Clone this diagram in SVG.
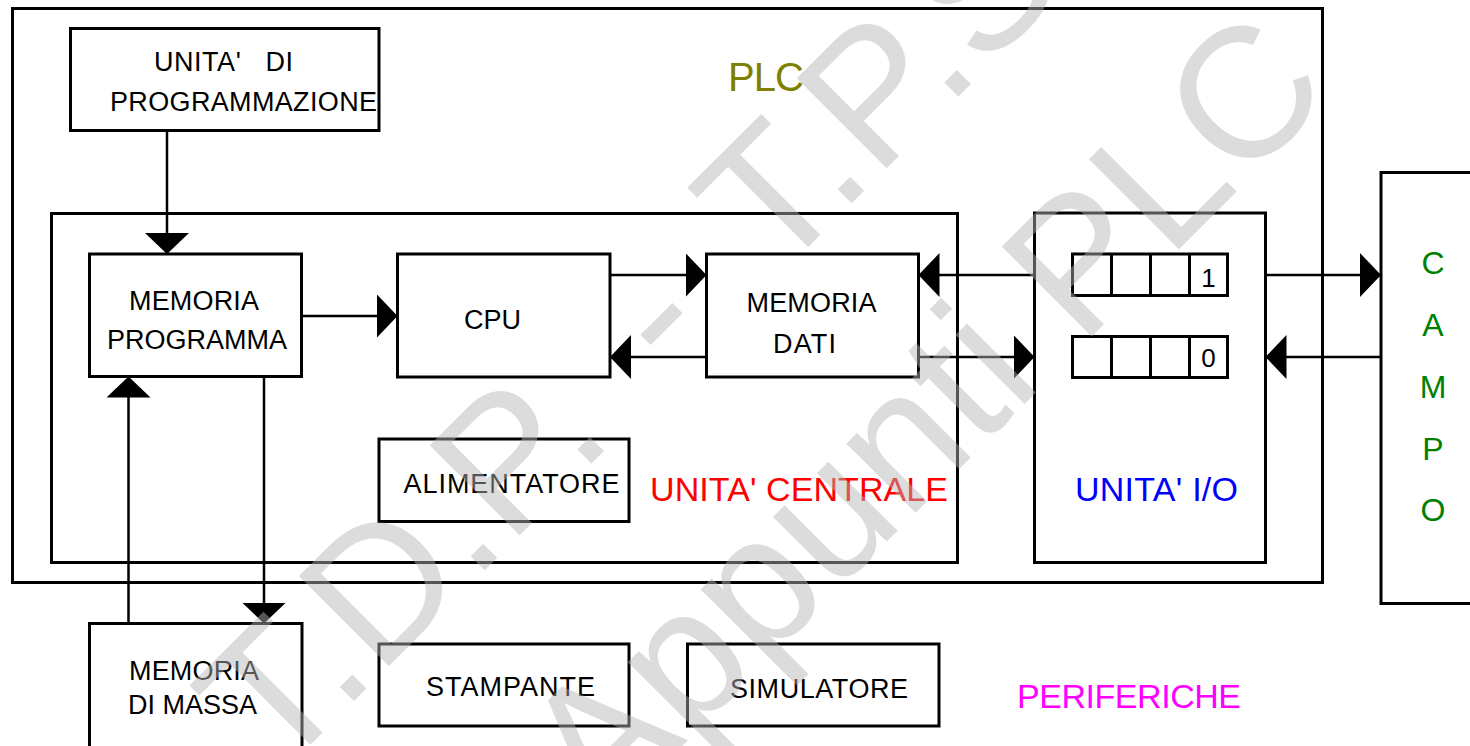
<svg xmlns="http://www.w3.org/2000/svg" width="1470" height="746" viewBox="0 0 1470 746">
<defs>
<style>
.box{fill:none;stroke:#000;stroke-width:3}
.ln{fill:none;stroke:#000;stroke-width:2.5}
.t{font-family:"Liberation Sans",Arial,sans-serif;font-size:27px;fill:#000}
.big{font-family:"Liberation Sans",Arial,sans-serif;font-size:34px}
.campo{font-family:"Liberation Sans",Arial,sans-serif;font-size:32px;fill:#008000;text-anchor:middle}
.wm{font-family:"Liberation Sans",Arial,sans-serif;font-size:185px;fill:#b5b5b5;fill-opacity:0.47}
</style>
<marker id="arr" markerUnits="userSpaceOnUse" markerWidth="22" markerHeight="44" viewBox="0 0 22 44" refX="21" refY="22" orient="auto">
<path d="M0,0 L21,22 L0,44 Z" fill="#000"/>
</marker>
</defs>
<rect width="1470" height="746" fill="#fff"/>

<g id="plc">
<rect class="box" x="12.5" y="8.5" width="1310" height="574"/>
<text class="big" x="728" y="91" font-size="40" style="font-size:40px" fill="#808000" textLength="76">PLC</text>
</g>

<g id="unita-programmazione">
<rect class="box" x="70.5" y="28.5" width="308.5" height="102"/>
<text class="t" x="154" y="71" xml:space="preserve" textLength="139">UNITA'   DI</text>
<text class="t" x="110" y="111" textLength="267">PROGRAMMAZIONE</text>
</g>

<g id="unita-centrale">
<rect class="box" x="51.5" y="213.5" width="906" height="349"/>
<text class="big" x="650" y="501" fill="#ff0000" textLength="298">UNITA' CENTRALE</text>
</g>

<g id="memoria-programma">
<rect class="box" x="89.5" y="254" width="212" height="122.5"/>
<text class="t" x="129" y="310" textLength="130">MEMORIA</text>
<text class="t" x="107" y="349" textLength="180">PROGRAMMA</text>
</g>

<g id="cpu">
<rect class="box" x="397.5" y="254" width="212.5" height="123"/>
<text class="t" x="464" y="329">CPU</text>
</g>

<g id="memoria-dati">
<rect class="box" x="706.5" y="254" width="212" height="123"/>
<text class="t" x="746.5" y="311.5" textLength="130">MEMORIA</text>
<text class="t" x="773" y="352.5" textLength="63">DATI</text>
</g>

<g id="alimentatore">
<rect class="box" x="379" y="439" width="250" height="82.5"/>
<text class="t" x="403.5" y="492.5" textLength="216">ALIMENTATORE</text>
</g>

<g id="unita-io">
<rect class="box" x="1034.5" y="213" width="231" height="349.5"/>
<rect class="box" x="1072.5" y="254" width="155" height="41.5"/>
<line class="box" x1="1111.5" y1="254" x2="1111.5" y2="295.5"/>
<line class="box" x1="1150.5" y1="254" x2="1150.5" y2="295.5"/>
<line class="box" x1="1189.5" y1="254" x2="1189.5" y2="295.5"/>
<text class="t" x="1208.5" y="287" font-size="26" style="font-size:26px" text-anchor="middle">1</text>
<rect class="box" x="1072.5" y="336.5" width="155" height="41"/>
<line class="box" x1="1111.5" y1="336.5" x2="1111.5" y2="377.5"/>
<line class="box" x1="1150.5" y1="336.5" x2="1150.5" y2="377.5"/>
<line class="box" x1="1189.5" y1="336.5" x2="1189.5" y2="377.5"/>
<text class="t" x="1208.5" y="367" style="font-size:26px" text-anchor="middle">0</text>
<text class="big" x="1075" y="501" fill="#0000ff" textLength="163">UNITA' I/O</text>
</g>

<g id="campo">
<rect class="box" x="1381" y="172.5" width="130" height="431"/>
<text class="campo" x="1433" y="274">C</text>
<text class="campo" x="1433" y="336">A</text>
<text class="campo" x="1433" y="398">M</text>
<text class="campo" x="1433" y="460">P</text>
<text class="campo" x="1433" y="521">O</text>
</g>

<g id="memoria-di-massa">
<rect class="box" x="89.5" y="623.5" width="212.5" height="140"/>
<text class="t" x="129" y="680" textLength="130">MEMORIA</text>
<text class="t" x="128" y="714" textLength="129">DI MASSA</text>
</g>

<g id="stampante">
<rect class="box" x="379" y="644" width="250" height="82"/>
<text class="t" x="426" y="696" textLength="169">STAMPANTE</text>
</g>

<g id="simulatore">
<rect class="box" x="687.5" y="644" width="251.5" height="82"/>
<text class="t" x="730" y="698" textLength="178">SIMULATORE</text>
</g>

<g id="periferiche">
<text class="big" x="1017" y="708" fill="#ff00ff" textLength="224">PERIFERICHE</text>
</g>

<g id="connectors">
<line class="ln" x1="167" y1="130.5" x2="167" y2="254" marker-end="url(#arr)"/>
<line class="ln" x1="301.5" y1="316" x2="397.5" y2="316" marker-end="url(#arr)"/>
<line class="ln" x1="610" y1="275" x2="706.5" y2="275" marker-end="url(#arr)"/>
<line class="ln" x1="706.5" y1="357" x2="610" y2="357" marker-end="url(#arr)"/>
<line class="ln" x1="1034.5" y1="275" x2="918.5" y2="275" marker-end="url(#arr)"/>
<line class="ln" x1="918.5" y1="357" x2="1034.5" y2="357" marker-end="url(#arr)"/>
<line class="ln" x1="1265.5" y1="275" x2="1381" y2="275" marker-end="url(#arr)"/>
<line class="ln" x1="1381" y1="357" x2="1265.5" y2="357" marker-end="url(#arr)"/>
<line class="ln" x1="128.5" y1="623.5" x2="128.5" y2="376.5" marker-end="url(#arr)"/>
<line class="ln" x1="264" y1="376.5" x2="264" y2="623.5" marker-end="url(#arr)"/>
</g>

<g id="watermark" transform="rotate(-45)">
<text class="wm" y="746"><tspan x="-355">T.D.P. </tspan><tspan x="208">- </tspan><tspan x="349">T.P.S.</tspan></text>
<text class="wm" x="-160" y="1010">Appunti PLC</text>
</g>
</svg>
